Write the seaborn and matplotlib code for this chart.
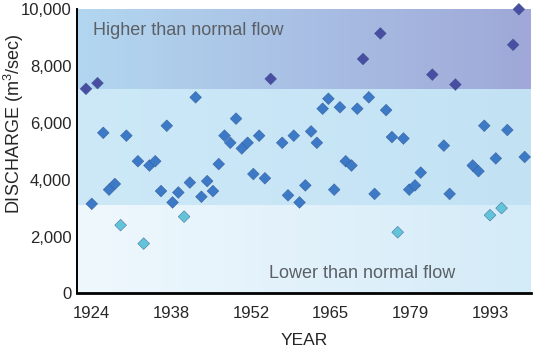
import numpy as np
import pandas as pd
import matplotlib
matplotlib.use('Agg')
import matplotlib.pyplot as plt
import seaborn as sns

# annual peak discharge
years = [1923, 1924, 1925, 1926, 1927, 1928, 1929, 1930, 1932, 1933,
         1934, 1935, 1936, 1937, 1938, 1939, 1940, 1941, 1942, 1943,
         1944, 1945, 1946, 1947, 1948, 1949, 1950, 1951, 1952, 1953,
         1954, 1955, 1957, 1958, 1959, 1960, 1961, 1962, 1963, 1964,
         1965, 1966, 1967, 1968, 1969, 1970, 1971, 1972, 1973, 1974,
         1975, 1976, 1977, 1978, 1979, 1980, 1981, 1983, 1985, 1986,
         1987, 1990, 1991, 1992, 1993, 1994, 1995, 1996, 1997, 1998,
         1999]
discharge = [7200, 3150, 7400, 5650, 3650, 3850, 2400, 5550, 4650, 1750,
             4500, 4650, 3600, 5900, 3200, 3550, 2700, 3900, 6900, 3400,
             3950, 3600, 4550, 5550, 5300, 6150, 5100, 5300, 4200, 5550,
             4050, 7550, 5300, 3450, 5550, 3200, 3800, 5700, 5300, 6500,
             6850, 3650, 6550, 4650, 4500, 6500, 8250, 6900, 3500, 9150,
             6450, 5500, 2150, 5450, 3650, 3800, 4250, 7700, 5200, 3500,
             7350, 4500, 4300, 5900, 2750, 4750, 3000, 5750, 8750, 10000,
             4800]

low_cut = 3100
high_cut = 7200
tick_years = [1924, 1937.8, 1951.6, 1965.4, 1979.2, 1993]
tick_labels = ['1924', '1938', '1952', '1965', '1979', '1993']
y_ticks = [0, 2000, 4000, 6000, 8000, 10000]

df = pd.DataFrame({'year': years, 'discharge': discharge})
df['flow'] = np.select([df['discharge'] >= high_cut, df['discharge'] < low_cut],
                       ['high', 'low'], default='normal')

sns.set_style('white')
plt.rcParams['font.family'] = ['Liberation Sans', 'DejaVu Sans']
plt.rcParams['mathtext.fontset'] = 'custom'
plt.rcParams['mathtext.rm'] = 'Liberation Sans'
plt.rcParams['mathtext.it'] = 'Liberation Sans:italic'

fig = plt.figure(figsize=(5.36, 3.57), dpi=100)
ax = fig.add_axes([0.1437, 0.1784, 0.8470, 0.7956])

xmin, xmax = 1921.45, 2000.1


def band(y0, y1, c_left, c_right):
    t = np.linspace(0, 1, 256)[None, :, None]
    a = np.array(matplotlib.colors.to_rgb(c_left))[None, None, :]
    b = np.array(matplotlib.colors.to_rgb(c_right))[None, None, :]
    img = a + (b - a) * t
    ax.imshow(img, extent=[xmin, xmax, y0, y1], aspect='auto', zorder=0,
              interpolation='bilinear')


band(0, low_cut, '#eff8fd', '#d4ebf8')
band(low_cut, high_cut, '#cde9f8', '#c2e2f4')
band(high_cut, 10000, '#b3d7f0', '#9fa8d8')

palette = {'high': '#4a4ea2', 'normal': '#3c7ac7', 'low': '#62c4d9'}
sns.scatterplot(data=df, x='year', y='discharge', hue='flow', palette=palette,
                marker='D', s=36, edgecolor='#33558f', linewidth=0.3,
                legend=False, ax=ax, zorder=3)
for c in ax.collections:
    c.set_clip_on(False)

ax.set_xlim(xmin, xmax)
ax.set_ylim(0, 10000)
ax.set_xticks(tick_years)
ax.set_xticklabels(tick_labels)
ax.set_yticks(y_ticks)
ax.set_yticklabels([f'{v:,}' for v in y_ticks])
ax.tick_params(axis='x', length=0, labelsize=12, pad=9)
ax.tick_params(axis='y', length=0, labelsize=12, pad=4)

for side in ['top', 'right']:
    ax.spines[side].set_visible(False)
ax.spines['left'].set_linewidth(1.4)
ax.spines['bottom'].set_linewidth(2)
ax.spines['left'].set_color('black')
ax.spines['bottom'].set_color('black')

ax.set_xlabel('YEAR', fontsize=12.5, labelpad=9)
ax.set_ylabel('DISCHARGE (m$^3$/sec)', fontsize=13)
ax.yaxis.set_label_coords(-0.112, 0.598)

ax.text(1924.2, 9250, 'Higher than normal flow', fontsize=13, color='#5b6066',
        va='center', ha='left')
ax.text(1987.0, 700, 'Lower than normal flow', fontsize=13, color='#5b6066',
        va='center', ha='right')

fig.savefig('out.png', dpi=100)
